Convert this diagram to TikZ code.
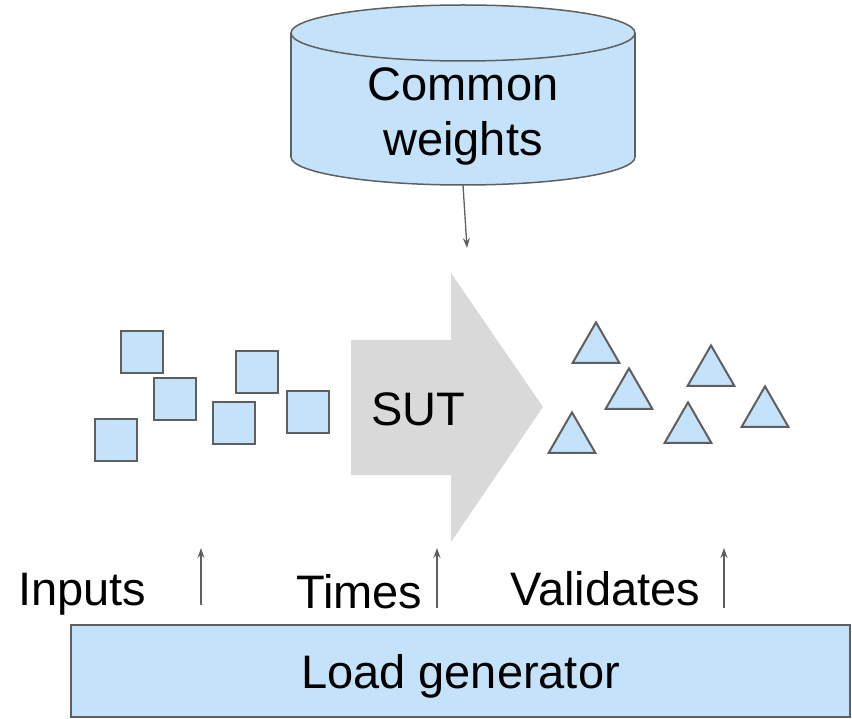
\documentclass[tikz,border=0pt]{standalone}
\usepackage{fontspec}
\setmainfont{Liberation Sans}
\usetikzlibrary{shapes.geometric,arrows.meta}
\definecolor{lightblue}{RGB}{196,227,251}
\definecolor{linegray}{RGB}{95,95,95}
\definecolor{sutgray}{RGB}{217,217,217}
\begin{document}
\begin{tikzpicture}[x=1pt, y=-1pt, font=\fontsize{47}{55}\selectfont,
		sqbox/.style={rectangle, draw=linegray, line width=2.4pt, fill=lightblue, minimum size=42pt, inner sep=0pt},
		tribox/.style={regular polygon, regular polygon sides=3, draw=linegray, line width=2pt, fill=lightblue, minimum size=54pt, inner sep=0pt},
		conn/.style={draw=linegray, line width=1.3pt, -{Stealth[length=10pt, width=7pt]}},
		label/.style={anchor=base west, inner sep=0pt}]
			\useasboundingbox (0,0) rectangle (852,719);
			
			% Common weights
			\filldraw[fill=lightblue, draw=linegray, line width=1.5pt] (463,157) ellipse [x radius=172pt, y radius=28pt];
			\fill[lightblue] (291,33) rectangle (635,157);
			\draw[linegray, line width=1.5pt] (291,33) -- (291,157) (635,33) -- (635,157);
			\filldraw[fill=lightblue, draw=linegray, line width=1.5pt] (463,33) ellipse [x radius=172pt, y radius=28pt];
			\node[align=center, inner sep=0pt] (weights) at (463,116) {Common\\weights};
			\coordinate (dbout) at (463,185);
			\coordinate (sutin) at (467,248);
			\draw[conn] (dbout) -- (sutin);
			
			% SUT
			\fill[sutgray] (351,340) -- (451,340) -- (451,273) -- (543,407) -- (451,542) -- (451,475) -- (351,475) -- cycle;
			\node[label] (sut) at (371,425) {SUT};
			
			% Inputs
			\foreach \i/\x/\y in {1/142/352, 2/175/399, 3/116/440, 4/257/372, 5/234/423, 6/308/412} {
				\node[sqbox] (input\i) at (\x,\y) {};
			}
			
			% Outputs
			\foreach \i/\x/\y in {1/596/349.4, 2/629/395.4, 3/572/439.4, 4/711/372.4, 5/688/429.4, 6/765/413.4} {
				\node[tribox] (output\i) at (\x,\y) {};
			}
			
			% Load generator
			\node[rectangle, draw=linegray, line width=1.5pt, fill=lightblue, minimum width=779pt, minimum height=92pt, text depth=0pt] (loadgen) at (460.5,671) {Load generator};
			\node[label] (inputs) at (18,605) {Inputs};
			\node[label] (times) at (296,608) {Times};
			\node[label] (validates) at (510,605) {Validates};
			\foreach \name/\x/\y in {inputs/201/605, times/437/608, validates/724/608} {
				\coordinate (\name low) at (\x,\y);
				\coordinate (\name high) at (\x,548);
				\draw[conn] (\name low) -- (\name high);
			}
		\end{tikzpicture}
\end{document}
